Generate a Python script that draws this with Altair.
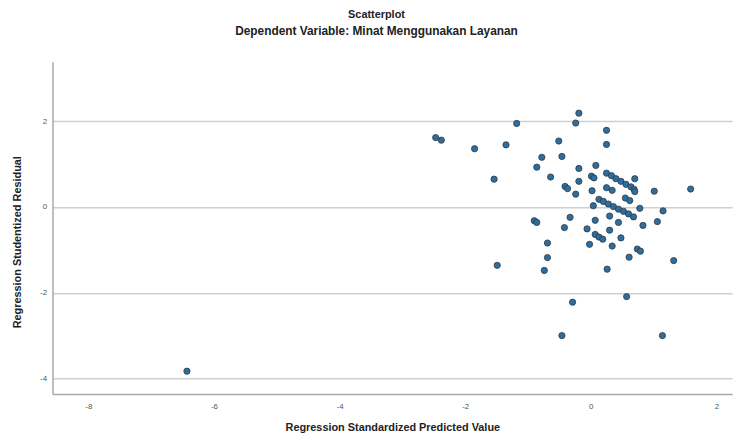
import altair as alt
import pandas as pd

# Regression Standardized Predicted Value (x) and Studentized Residual (y)
pred = [
    -6.43, -2.47, -2.38, -1.85, -1.35, -1.18, -1.54, -1.49,
    -0.19, -0.24, -0.51, 0.25, 0.25, -0.78, -0.46, -0.86, -0.64,
    -0.19, 0.08, -0.19, -0.41, -0.37, -0.24, 0.01, 0.05, 0.02,
    0.25, 0.33, 0.40, 0.48, 0.56, 0.64, 0.69, 0.70, 1.01, 1.59,
    0.25, 0.34, 0.55, 0.62, 0.70,
    0.13, 0.20, 0.28, 0.36, 0.44, 0.52, 0.60, 0.68,
    0.78, 1.15, 0.04, -0.33, 0.07, 0.30, 0.44, 0.83, 1.06,
    -0.90, -0.86, -0.42, -0.06, 0.30, 0.07, 0.13, 0.19, -0.02,
    0.34, 0.48, 0.74, 0.79, 0.61, 0.26, 1.32, -0.69, -0.69, -0.74,
    -0.29, 0.57, -0.46, 1.14,
]
resid = [
    -3.83, 1.62, 1.56, 1.36, 1.45, 1.95, 0.65, -1.36,
    2.19, 1.96, 1.54, 1.79, 1.46, 1.16, 1.18, 0.93, 0.70,
    0.90, 0.97, 0.60, 0.48, 0.43, 0.30, 0.72, 0.68, 0.38,
    0.79, 0.73, 0.66, 0.60, 0.53, 0.47, 0.41, 0.66, 0.37, 0.42,
    0.45, 0.39, 0.21, 0.15, 0.36,
    0.18, 0.13, 0.07, 0.01, -0.05, -0.10, -0.16, -0.23,
    -0.03, -0.09, 0.03, -0.24, -0.31, -0.21, -0.36, -0.43, -0.34,
    -0.32, -0.36, -0.48, -0.51, -0.54, -0.64, -0.70, -0.75, -0.87,
    -0.91, -0.72, -0.98, -1.03, -1.17, -1.45, -1.25, -0.84, -1.18, -1.48,
    -2.22, -2.09, -3.00, -3.00,
]

x_ticks = [-8, -6, -4, -2, 0, 2]
y_ticks = [-4, -2, 0, 2]

title_text = "Scatterplot"
subtitle_text = "Dependent Variable: Minat Menggunakan Layanan"
x_title = "Regression Standardized Predicted Value"
y_title = "Regression Studentized Residual"

df = pd.DataFrame({"pred": pred, "resid": resid})

FONT = "Liberation Sans"

chart = (
    alt.Chart(df)
    .mark_circle(size=40, opacity=1, color="#2f6d9c", stroke="#2b3a48", strokeWidth=0.8)
    .encode(
        x=alt.X(
            "pred:Q",
            scale=alt.Scale(domain=[-8.57, 2.25], nice=False, zero=False),
            axis=alt.Axis(
                values=x_ticks,
                labelExpr="'' + datum.value",
                title=x_title,
                grid=False,
                ticks=False,
                domainColor="#aaaaaa",
                domainWidth=1.5,
                labelFont=FONT,
                labelFontSize=8,
                labelColor="#555555",
                labelPadding=9,
                titleFont=FONT,
                titleFontSize=11,
                titleFontWeight="bold",
                titleColor="#222222",
                titlePadding=11,
            ),
        ),
        y=alt.Y(
            "resid:Q",
            scale=alt.Scale(domain=[-4.365, 3.39], nice=False, zero=False),
            axis=alt.Axis(
                values=y_ticks,
                labelExpr="'' + datum.value",
                title=y_title,
                grid=True,
                gridColor="#cfcfcf",
                gridWidth=1.5,
                ticks=False,
                domainColor="#aaaaaa",
                domainWidth=1.5,
                labelFont=FONT,
                labelFontSize=8,
                labelColor="#555555",
                labelPadding=6,
                titleFont=FONT,
                titleFontSize=11,
                titleFontWeight="bold",
                titleColor="#222222",
                titleX=-35,
                titleY=182,
                titleAlign="center",
                titleBaseline="middle",
                titleAngle=-90,
            ),
        ),
    )
    .properties(
        width=687,
        height=336,
        autosize="none",
        padding={"left": 45, "top": 52, "right": 12, "bottom": 37},
        title=alt.TitleParams(
            text=title_text,
            subtitle=subtitle_text,
            font=FONT,
            subtitleFont=FONT,
            fontSize=11,
            subtitleFontSize=12,
            fontWeight="bold",
            subtitleFontWeight="bold",
            color="#222222",
            subtitleColor="#222222",
            anchor="middle",
            dx=-16,
            offset=25,
            subtitlePadding=6,
        ),
    )
    .configure_view(stroke=None)
)

chart.save("out.html", embed_options={"renderer": "svg", "actions": False})
